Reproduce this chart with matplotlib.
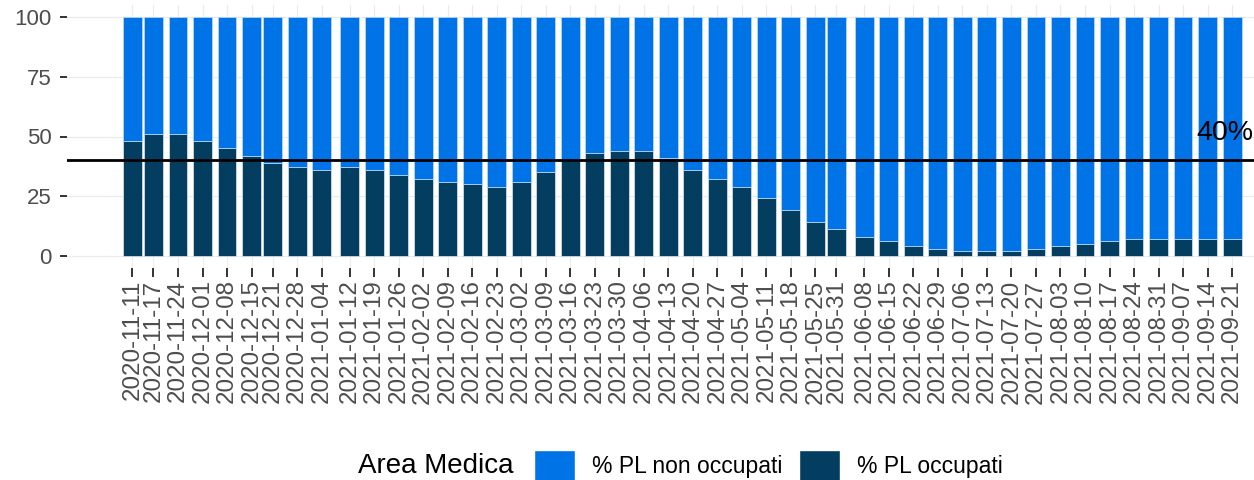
import numpy as np
import matplotlib
matplotlib.use('Agg')
import matplotlib.pyplot as plt
import matplotlib.dates as mdates
from matplotlib.patches import Patch
import pandas as pd

plt.rcParams['font.family'] = ['Liberation Sans', 'DejaVu Sans']

# settimane e % posti letto occupati (Area Medica)
dates = ['2020-11-11', '2020-11-17', '2020-11-24', '2020-12-01', '2020-12-08',
         '2020-12-15', '2020-12-21', '2020-12-28', '2021-01-04', '2021-01-12',
         '2021-01-19', '2021-01-26', '2021-02-02', '2021-02-09', '2021-02-16',
         '2021-02-23', '2021-03-02', '2021-03-09', '2021-03-16', '2021-03-23',
         '2021-03-30', '2021-04-06', '2021-04-13', '2021-04-20', '2021-04-27',
         '2021-05-04', '2021-05-11', '2021-05-18', '2021-05-25', '2021-05-31',
         '2021-06-08', '2021-06-15', '2021-06-22', '2021-06-29', '2021-07-06',
         '2021-07-13', '2021-07-20', '2021-07-27', '2021-08-03', '2021-08-10',
         '2021-08-17', '2021-08-24', '2021-08-31', '2021-09-07', '2021-09-14',
         '2021-09-21']
occupati = [48, 51, 51, 48, 45, 42, 39, 37, 36, 37,
            36, 34, 32, 31, 30, 29, 31, 35, 40, 43,
            44, 44, 41, 36, 32, 29, 24, 19, 14, 11,
            8, 6, 4, 3, 2, 2, 2, 3, 4, 5,
            6, 7, 7, 7, 7, 7]
non_occupati = [100 - v for v in occupati]
soglia = 40

col_non = '#0073E6'
col_occ = '#033E61'

x = mdates.date2num(pd.to_datetime(dates))

fig = plt.figure(figsize=(12.54, 4.8), dpi=100)
ax = fig.add_axes([0.05343, 0.4425, 0.9813, 0.54625])

ax.bar(x, occupati, width=5.4, color=col_occ, edgecolor='#DDE8F2', linewidth=0.5, zorder=2)
ax.bar(x, non_occupati, width=5.4, bottom=occupati, color=col_non, edgecolor='#BFDAF7', linewidth=0.5, zorder=2)
ax.axhline(soglia, color='black', linewidth=2, zorder=3)
ax.text(x[-1] - 2, 48.5, '40%', fontsize=20.5, ha='center', va='baseline', color='black', zorder=4)

ax.set_xlim(x[0] - 18.7, x[-1] + 18.7)
ax.set_ylim(-5, 105)
ax.set_xticks(x)
ax.set_xticklabels(dates, rotation=90, fontsize=17.4, color='#4D4D4D')
ax.set_yticks([0, 25, 50, 75, 100])
ax.set_yticklabels(['0', '25', '50', '75', '100'], fontsize=16, color='#4D4D4D')
ax.tick_params(axis='x', length=6.5, width=1.4, color='#333333', pad=2)
ax.tick_params(axis='y', length=5, width=1.4, color='#333333', pad=6)
ax.grid(True, color='#EBEBEB', linewidth=0.8, zorder=0)
ax.set_axisbelow(True)
for s in ax.spines.values():
    s.set_visible(False)

fig.text(358 / 1254, 0.029, 'Area Medica', fontsize=20, ha='left', va='center')
handles = [Patch(facecolor=col_non, edgecolor='white', label='% PL non occupati'),
           Patch(facecolor=col_occ, edgecolor='white', label='% PL occupati')]
fig.legend(handles=handles, loc='center left', bbox_to_anchor=(534 / 1254, 0.029),
           ncol=2, frameon=False, fontsize=16.5, handlelength=1.8, handleheight=1.75,
           handletextpad=0.74, columnspacing=0.7, borderpad=0, borderaxespad=0)

fig.savefig('out.png', dpi=100)
